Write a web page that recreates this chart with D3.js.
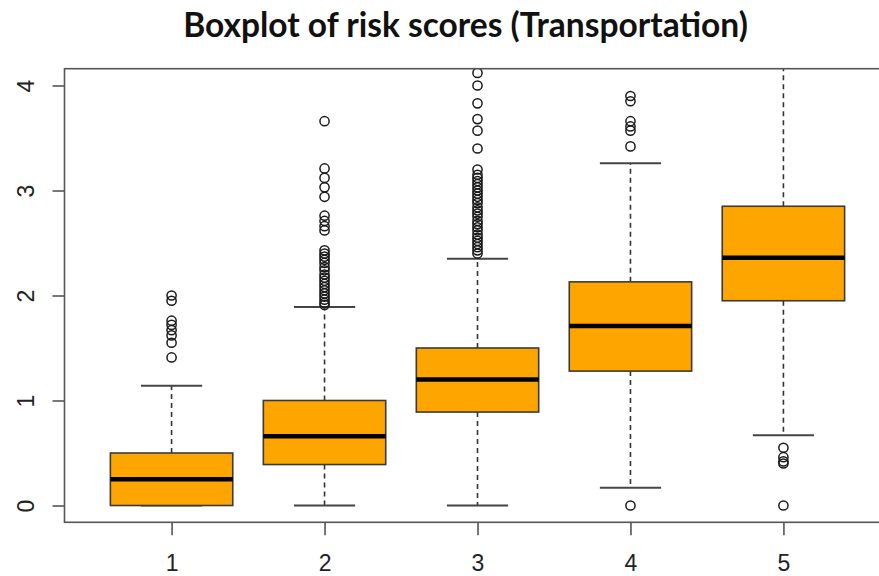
<!DOCTYPE html>
<html>
<head>
<meta charset="utf-8">
<script src="https://cdn.jsdelivr.net/npm/d3@7"></script>
<style>
  html, body { margin: 0; padding: 0; background: #ffffff; }
  svg { display: block; }
</style>
</head>
<body>
<svg id="chart" width="879" height="576"></svg>
<script>
// Risk score summaries per transportation group
const groups = ["1", "2", "3", "4", "5"];
const q1 = [0.0, 0.39, 0.89, 1.28, 1.95];
const medians = [0.25, 0.66, 1.2, 1.71, 2.36];
const q3 = [0.5, 1.0, 1.5, 2.13, 2.85];
const whiskerLow = [0.0, 0.0, 0.0, 0.17, 0.67];
const whiskerHigh = [1.14, 1.89, 2.35, 3.26, 4.2];

const outliers1 = [1.41, 1.55, 1.62, 1.67, 1.72, 1.76, 1.95, 2.0];
const outliers2 = [1.91, 1.93, 1.96, 1.99, 2.02, 2.05, 2.08, 2.11, 2.14, 2.17, 2.2, 2.24,
                   2.27, 2.31, 2.34, 2.37, 2.4, 2.43, 2.62, 2.66, 2.71, 2.76, 2.94, 3.03,
                   3.12, 3.21, 3.66];
const outliers3 = [2.4, 2.43, 2.46, 2.49, 2.52, 2.55, 2.58, 2.62, 2.65, 2.68, 2.71, 2.75,
                   2.78, 2.81, 2.84, 2.88, 2.91, 2.94, 2.97, 3.0, 3.03, 3.06, 3.09, 3.12,
                   3.15, 3.2, 3.4, 3.57, 3.68, 3.83, 4.0, 4.12];
const outliers4 = [0.0, 3.42, 3.57, 3.61, 3.66, 3.85, 3.9];
const outliers5 = [0.0, 0.4, 0.42, 0.46, 0.55];
const outliers = [outliers1, outliers2, outliers3, outliers4, outliers5];

const yTicks = [0, 1, 2, 3, 4];
const titleText = "Boxplot of risk scores (Transportation)";

const svg = d3.select("#chart");

// Plot region (the right edge of the frame sits just past the page)
const plot = { left: 64.5, right: 890.5, top: 68.7, bottom: 522.3 };

const x = d3.scaleLinear().domain([0.3, 5.7]).range([plot.left, plot.right]);
const y = d3.scaleLinear().domain([-0.16, 4.16]).range([plot.bottom, plot.top]);

const boxW = 0.8;
const capW = 0.4;

svg.append("clipPath").attr("id", "plotClip")
  .append("rect")
  .attr("x", plot.left).attr("y", plot.top)
  .attr("width", plot.right - plot.left).attr("height", plot.bottom - plot.top);

const marks = svg.append("g").attr("clip-path", "url(#plotClip)");

const data = groups.map((g, i) => ({
  pos: i + 1,
  q1: q1[i], med: medians[i], q3: q3[i],
  lo: whiskerLow[i], hi: whiskerHigh[i],
  out: outliers[i]
}));

const grp = marks.selectAll("g.box").data(data).join("g").attr("class", "box");

// dashed whiskers
grp.append("line")
  .attr("x1", d => x(d.pos)).attr("x2", d => x(d.pos))
  .attr("y1", d => y(d.q3)).attr("y2", d => y(d.hi))
  .attr("stroke", "#333").attr("stroke-width", 1.6).attr("stroke-dasharray", "5,4");
grp.append("line")
  .attr("x1", d => x(d.pos)).attr("x2", d => x(d.pos))
  .attr("y1", d => y(d.q1)).attr("y2", d => y(d.lo))
  .attr("stroke", "#333").attr("stroke-width", 1.6).attr("stroke-dasharray", "5,4");

// whisker caps
["lo", "hi"].forEach(k => {
  grp.append("line")
    .attr("x1", d => x(d.pos - capW / 2)).attr("x2", d => x(d.pos + capW / 2))
    .attr("y1", d => y(d[k])).attr("y2", d => y(d[k]))
    .attr("stroke", "#444").attr("stroke-width", 2);
});

// boxes
grp.append("rect")
  .attr("x", d => x(d.pos - boxW / 2))
  .attr("width", d => x(d.pos + boxW / 2) - x(d.pos - boxW / 2))
  .attr("y", d => y(d.q3))
  .attr("height", d => y(d.q1) - y(d.q3))
  .attr("fill", "#FFA500").attr("stroke", "#3a3a3a").attr("stroke-width", 1.6);

// medians
grp.append("line")
  .attr("x1", d => x(d.pos - boxW / 2)).attr("x2", d => x(d.pos + boxW / 2))
  .attr("y1", d => y(d.med)).attr("y2", d => y(d.med))
  .attr("stroke", "#000").attr("stroke-width", 4.5);

// outliers
grp.selectAll("circle")
  .data(d => d.out.map(v => ({ pos: d.pos, v })))
  .join("circle")
  .attr("cx", d => x(d.pos)).attr("cy", d => y(d.v))
  .attr("r", 4.6)
  .attr("fill", "none").attr("stroke", "#1a1a1a").attr("stroke-width", 1.5);

// frame
svg.append("rect")
  .attr("x", plot.left).attr("y", plot.top)
  .attr("width", plot.right - plot.left).attr("height", plot.bottom - plot.top)
  .attr("fill", "none").attr("stroke", "#555").attr("stroke-width", 1.6);

// y axis
const yAxis = svg.append("g")
  .attr("transform", `translate(${plot.left},0)`)
  .call(d3.axisLeft(y).tickValues(yTicks).tickSize(12).tickFormat(d3.format("d")));
yAxis.select(".domain").remove();
yAxis.selectAll(".tick line").attr("stroke", "#555").attr("stroke-width", 1.6);
yAxis.selectAll(".tick text")
  .attr("x", 0).attr("dy", null)
  .attr("transform", "translate(-39,0) rotate(-90)")
  .attr("text-anchor", "middle").attr("dominant-baseline", "central")
  .attr("fill", "#222")
  .style("font-family", "'Liberation Sans', Arial, sans-serif")
  .style("font-size", "23px");

// x axis
const xAxis = svg.append("g")
  .attr("transform", `translate(0,${plot.bottom})`)
  .call(d3.axisBottom(x).tickValues(data.map(d => d.pos)).tickSize(13)
    .tickFormat((d, i) => groups[i]));
xAxis.select(".domain").remove();
xAxis.selectAll(".tick line").attr("stroke", "#555").attr("stroke-width", 1.6);
xAxis.selectAll(".tick text")
  .attr("y", 49).attr("dy", null)
  .attr("fill", "#222")
  .style("font-family", "'Liberation Sans', Arial, sans-serif")
  .style("font-size", "23px");

// title, sized to span its full width
const title = svg.append("text")
  .attr("x", 465.5).attr("y", 37)
  .attr("text-anchor", "middle")
  .attr("fill", "#111")
  .style("font-family", "Lato, 'Open Sans', sans-serif")
  .style("font-weight", "700")
  .style("font-size", "30px")
  .text(titleText);
const tw = title.node().getComputedTextLength();
title.style("font-size", (30 * 565 / tw).toFixed(2) + "px");
</script>
</body>
</html>
